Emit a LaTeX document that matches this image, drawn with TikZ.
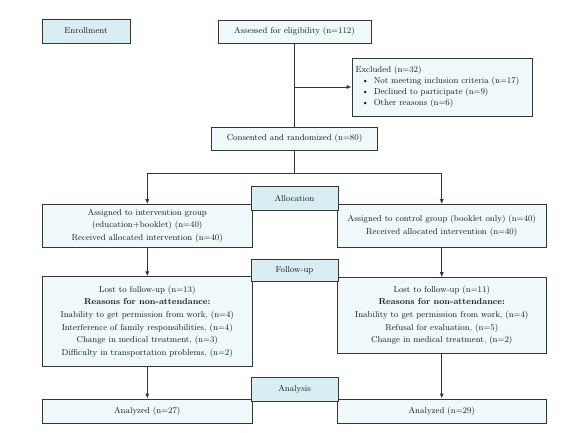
\documentclass[tikz,border=0pt]{standalone}
\usetikzlibrary{arrows.meta}
\definecolor{bordc}{HTML}{353535}
\definecolor{headfill}{HTML}{D8EEF2}
\definecolor{boxfill}{HTML}{EFF8FA}
\definecolor{txtc}{HTML}{1A1A1A}
\tikzset{
  base/.style={draw=bordc, line width=0.9pt, text=txtc, inner sep=0pt, align=center,
    font=\fontsize{8.6}{12.7}\selectfont},
  head/.style={base, fill=headfill},
  cbox/.style={base, fill=boxfill},
  conn/.style={draw=bordc, line width=0.9pt},
  arr/.style={conn, -{Latex[length=5pt,width=4.2pt]}}
}
\begin{document}
\begin{tikzpicture}[x=1pt,y=-1pt]
\useasboundingbox (0,0) rectangle (588,432);
% top
\node[head, minimum width=88pt, minimum height=24pt] (enr) at (86,31) {Enrollment};
\node[cbox, minimum width=153pt, minimum height=23pt] (ass) at (294.5,31.5) {Assessed for eligibility (n=112)};
\node[cbox, minimum width=180pt, minimum height=58pt, text width=173pt, inner xsep=3.5pt, align=left,
  font=\fontsize{8.6}{11.2}\selectfont] (exc) at (442,87)
  {Excluded (n=32)\\
   \hspace*{6.3pt}\makebox[12pt][l]{\textbullet}Not meeting inclusion criteria (n=17)\\
   \hspace*{6.3pt}\makebox[12pt][l]{\textbullet}Declined to participate (n=9)\\
   \hspace*{6.3pt}\makebox[12pt][l]{\textbullet}Other reasons (n=6)};
\node[cbox, minimum width=166pt, minimum height=23pt] (con) at (294.5,138.5) {Consented and randomized (n=80)};
% allocation
\node[cbox, minimum width=209.5pt, minimum height=42.5pt] (lint) at (147.25,225.75)
  {Assigned to intervention group\\(education+booklet) (n=40)\\Received allocated intervention (n=40)};
\node[cbox, minimum width=209.5pt, minimum height=42.5pt] (rint) at (441.75,225.75)
  {Assigned to control group (booklet only) (n=40)\\Received allocated intervention (n=40)};
\node[head, minimum width=87pt, minimum height=23.5pt] (alloc) at (294.5,198.2) {Allocation};
% follow-up
\node[cbox, minimum width=209.5pt, minimum height=89.8pt] (lfu) at (147.25,321.6)
  {Lost to follow-up (n=13)\\\textbf{Reasons for non-attendance:}\\Inability to get permission from work, (n=4)\\Interference of family responsibilities, (n=4)\\Change in medical treatment, (n=3)\\Difficulty in transportation problems, (n=2)};
\node[cbox, minimum width=209.5pt, minimum height=75.3pt] (rfu) at (441.75,315.3)
  {Lost to follow-up (n=11)\\\textbf{Reasons for non-attendance:}\\Inability to get permission from work, (n=4)\\Refusal for evaluation, (n=5)\\Change in medical treatment, (n=2)};
\node[head, minimum width=87pt, minimum height=22.4pt] (fu) at (294.5,270.5) {Follow-up};
% analysis
\node[cbox, minimum width=209.5pt, minimum height=24pt] (lan) at (147.25,411) {Analyzed (n=27)};
\node[cbox, minimum width=209.5pt, minimum height=24pt] (ran) at (441.75,411) {Analyzed (n=29)};
\node[head, minimum width=87pt, minimum height=24pt] (ana) at (294.5,389.5) {Analysis};
% connectors
\coordinate (j1) at (294.5,87);
\coordinate (split) at (294.5,173);
\draw[conn] (ass.south) -- (con.north);
\draw[arr] (j1) -- (exc.west);
\draw[conn] (con.south) -- (split);
\draw[arr] (split) -| (lint.north);
\draw[arr] (split) -| (rint.north);
\draw[arr] (lint.south) -- (lfu.north);
\draw[arr] (rint.south) -- (rfu.north);
\draw[arr] (lfu.south) -- (lan.north);
\draw[arr] (rfu.south) -- (ran.north);
\end{tikzpicture}
\end{document}
